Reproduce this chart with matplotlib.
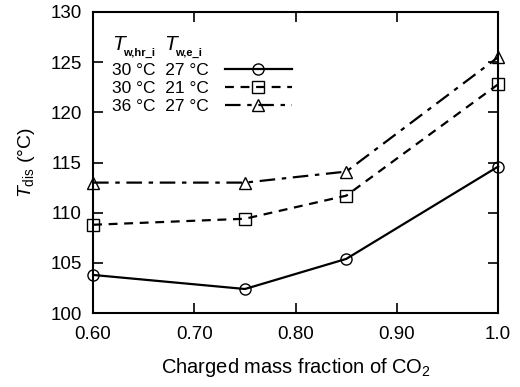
import matplotlib
matplotlib.use('Agg')
import matplotlib.pyplot as plt

plt.rcParams['font.family'] = ['Liberation Sans', 'DejaVu Sans']
plt.rcParams['mathtext.fontset'] = 'custom'
plt.rcParams['mathtext.rm'] = 'Liberation Sans'
plt.rcParams['mathtext.it'] = 'Liberation Sans:italic'
plt.rcParams['mathtext.bf'] = 'Liberation Sans:bold'

# 数据
mass_fraction = [0.60, 0.75, 0.85, 1.00]
t_30_27 = [103.8, 102.4, 105.4, 114.6]
t_30_21 = [108.8, 109.4, 111.7, 122.8]
t_36_27 = [113.0, 113.0, 114.1, 125.5]
row_labels = ['30 °C  27 °C', '30 °C  21 °C', '36 °C  27 °C']
header_subs = ['w,hr_i', 'w,e_i']
x_ticks = [0.6, 0.7, 0.8, 0.9, 1.0]
x_ticklabels = ['0.60', '0.70', '0.80', '0.90', '1.0']
y_ticks = [100, 105, 110, 115, 120, 125, 130]

fig = plt.figure(figsize=(5.2, 3.87), dpi=100)
ax = fig.add_axes([0.179, 0.191, 0.779, 0.778])

mk = dict(markersize=8, markerfacecolor='none', markeredgecolor='black', markeredgewidth=1.0)
l1, = ax.plot(mass_fraction, t_30_27, color='black', linestyle='-', linewidth=1.6, marker='o', clip_on=False, **mk)
l2, = ax.plot(mass_fraction, t_30_21, color='black', linestyle=(0, (4, 3)), linewidth=1.6, marker='s', clip_on=False, **mk)
l3, = ax.plot(mass_fraction, t_36_27, color='black', linestyle=(0, (7, 3, 2, 3)), linewidth=1.6, marker='^', clip_on=False, **mk)

ax.set_xlim(0.6, 1.0)
ax.set_ylim(100, 130)
ax.set_xticks(x_ticks)
ax.set_xticklabels(x_ticklabels)
ax.set_yticks(y_ticks)
ax.tick_params(direction='in', top=True, right=True, length=7, width=1.2, labelsize=13.5)
ax.tick_params(axis='x', pad=9)
ax.tick_params(axis='y', pad=8)
for s in ax.spines.values():
    s.set_linewidth(1.5)

ax.set_xlabel('Charged mass fraction of CO$_2$', fontsize=14.5, labelpad=10)
ax.set_ylabel('$T_{\\rm dis}$ (°C)', fontsize=14, labelpad=10)

# 图例表头
for x0, sub in zip([0.047, 0.175], header_subs):
    ax.text(x0, 0.875, 'T', style='italic', transform=ax.transAxes, fontsize=15)
    ax.text(x0 + 0.028, 0.855, sub, transform=ax.transAxes, fontsize=8, weight='bold')

ax.legend([l1, l2, l3], row_labels, loc='upper left', bbox_to_anchor=(0.047, 0.83),
          frameon=False, markerfirst=False, handlelength=3.9, fontsize=12.5,
          labelspacing=0.15, handletextpad=0.9, borderaxespad=0, borderpad=0)

fig.savefig('out.png', dpi=100)
